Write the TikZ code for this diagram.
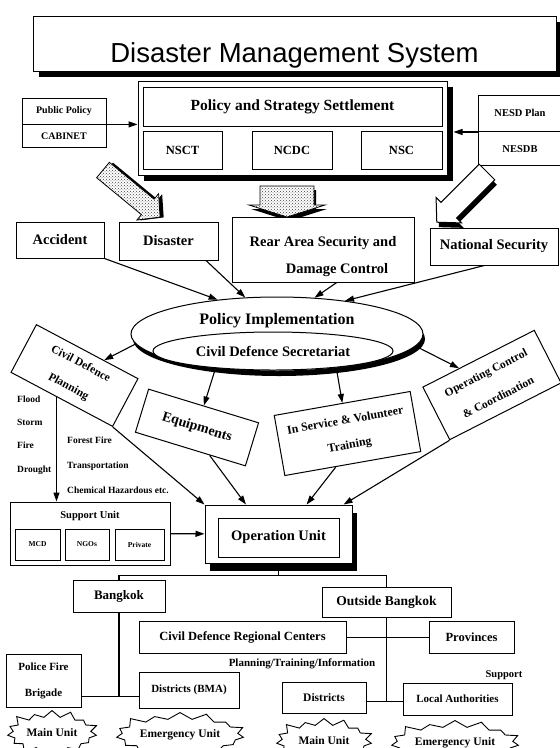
\documentclass[tikz,border=0pt]{standalone}
\usepackage{fontspec}
\setmainfont{Liberation Serif}
\newfontfamily\titlefont{Liberation Sans}
\usetikzlibrary{arrows.meta, positioning, calc, shapes.geometric, shapes.multipart, shapes.symbols, shadows, patterns}

\begin{document}
\begin{tikzpicture}[x=1pt, y=-1pt, >={Triangle[length=9pt,width=6pt]},
  box/.style={draw, line width=1pt, fill=white, inner sep=2pt},
  fs/.style={font=\bfseries\fontsize{#1}{#1}\selectfont},
  conn/.style={->, line width=1.1pt},
  tree/.style={line width=1.1pt},
  stipple/.style={draw, line width=0.8pt, preaction={fill=white}, pattern=crosshatch dots, pattern color=black!75},
  burst/.style={starburst, draw, line width=0.9pt, fill=white, starburst points=15, starburst point height=9pt, inner sep=1pt}]
\useasboundingbox (0,0) rectangle (560,748);

\node[box, minimum width=523pt, minimum height=55pt, text height=38pt, text depth=0pt,
  font=\titlefont\fontsize{27.5}{27.5}\selectfont,
  drop shadow={shadow xshift=6pt, shadow yshift=-6pt, opacity=1, fill=black}] (title) at (294.5,43.5) {Disaster Management System};

% policy and strategy block
\node[box, minimum width=309pt, minimum height=94pt,
  drop shadow={shadow xshift=6pt, shadow yshift=-6pt, opacity=1, fill=black}] (policy) at (292.5,128) {};
\node[box, fs=15.5, minimum width=299pt, minimum height=39pt] (pss) at (292.5,106.5) {Policy and Strategy Settlement};
\node[box, fs=12.5, minimum width=79pt, minimum height=38pt] (nsct) at (182.5,150) {NSCT};
\node[box, fs=12.5, minimum width=80pt, minimum height=38pt] (ncdc) at (292,150) {NCDC};
\node[box, fs=12.5, minimum width=81pt, minimum height=38pt] (nsc) at (401.5,150) {NSC};

\node[box, rectangle split, rectangle split parts=2, fs=10, minimum width=84pt,
  text height=7pt, text depth=2.5pt, inner ysep=7.75pt] (pubpol) at (64,123) {Public Policy \nodepart{two} CABINET};
\node[box, rectangle split, rectangle split parts=2, fs=10.5, minimum width=84pt,
  text height=7.5pt, text depth=2.5pt, inner ysep=12.75pt] (nesd) at (520,130.5) {NESD Plan \nodepart{two} NESDB};

\draw[conn] (pubpol.text split east) -- (pubpol.text split east -| policy.west);
\draw[conn, shorten >=6pt] (nesd.text split west) -- (nesd.text split west -| policy.east);

% block arrows
\begin{scope}[shift={(103,170)}, rotate=50.5]
  \fill[black] (-8,3) -- (12,3) -- (12,61) -- (19,61) -- (2,77) -- (-15,61) -- (-8,61) -- cycle;
  \path[stipple] (-10,0) -- (10,0) -- (10,58) -- (17,58) -- (0,74) -- (-17,58) -- (-10,58) -- cycle;
\end{scope}
\begin{scope}[shift={(287,186)}]
  \fill[black] (-25,4) -- (29,4) -- (29,23) -- (40,23) -- (2,35) -- (-36,23) -- (-25,23) -- cycle;
  \path[stipple] (-27,0) -- (27,0) -- (27,19) -- (38,19) -- (0,31) -- (-38,19) -- (-27,19) -- cycle;
\end{scope}
\begin{scope}[shift={(487,172)}, rotate=-45]
  \fill[black] (-6,2) -- (16,2) -- (16,56) -- (23,56) -- (5,73) -- (-13,56) -- (-6,56) -- cycle;
  \filldraw[fill=white, line width=1pt] (-11,0) -- (11,0) -- (11,54) -- (18,54) -- (0,71) -- (-18,54) -- (-11,54) -- cycle;
\end{scope}

% incidents
\node[box, fs=14.5, minimum width=88pt, minimum height=36pt] (accident) at (60,240) {Accident};
\node[box, fs=14.5, minimum width=99pt, minimum height=38pt] (disaster) at (168.5,241) {Disaster};
\node[box, fs=14.5, align=center, minimum width=182pt, minimum height=65pt] (rear) at (323,249.5)
  {\rule{0pt}{25pt}Rear Area Security and\\[12.5pt]\hspace*{28pt}Damage Control};
\node[box, fs=14.5, minimum width=128pt, minimum height=37pt] (natsec) at (494,246.5) {National Security};

\node[ellipse, draw, line width=1pt, fill=white, fs=16, minimum width=292pt, minimum height=74pt, text depth=30pt,
  drop shadow={shadow xshift=2pt, shadow yshift=-5pt, opacity=1, fill=black}] (impl) at (277,334) {Policy Implementation};
\node[ellipse, draw, line width=1pt, fill=white, fs=14.5, minimum width=240pt, minimum height=38pt, inner sep=0pt] (secr) at (273,351) {Civil Defence Secretariat};

\draw[conn] (accident.south east) -- (impl.150);
\draw[conn] ($(disaster.south)!0.75!(disaster.south east)$) -- (impl.131);
\draw[conn] ($(rear.south)!0.15!(rear.south east)$) -- (impl.44);
\draw[conn] ($(natsec.south)!0.15!(natsec.south west)$) -- (impl.26);

% tasks
\node[box, fs=11.5, align=center, rotate=-28, minimum width=115pt, minimum height=54pt] (cdp) at (74.5,375.5) {Civil Defence\\[14.5pt]Planning};
\node[box, fs=14, rotate=-17, minimum width=115pt, minimum height=45pt] (equip) at (197,427.5) {Equipments};
\node[box, fs=12, align=center, rotate=10, minimum width=138pt, minimum height=61pt] (insvc) at (347.5,433.5) {In Service \& Volunteer\\[13pt]Training};
\node[box, fs=11.5, align=center, rotate=27, minimum width=125pt, minimum height=59pt] (opctl) at (492,385) {Operating Control\\[16pt]\& Coordination};

\draw[conn] (impl.184) -- (cdp);
\draw[conn] (impl.209) -- (equip);
\draw[conn] (impl.330) -- (insvc);
\draw[conn] (impl.355) -- (opctl);

\node[fs=9.5, align=left, anchor=west, inner sep=1pt] (hazards) at (16,435) {Flood\\[13.8pt]Storm\\[13.8pt]Fire\\[13.8pt]Drought};
\node[fs=9.5, align=left, anchor=west, inner sep=1pt] (hazardsb) at (66,465) {Forest Fire\\[15.5pt]Transportation\\[15.5pt]Chemical Hazardous etc.};

% units
\node[box, minimum width=160pt, minimum height=63pt,
  label={[anchor=north, yshift=-6pt, fs=10.5]north:Support Unit}] (support) at (90,533.5) {};
\node[box, fs=7.5, minimum width=45pt, minimum height=31pt] (mcd) at (37.5,544.5) {MCD};
\node[box, fs=7.5, minimum width=44pt, minimum height=31pt] (ngo) at (87,544.5) {NGOs};
\node[box, fs=7.5, minimum width=49pt, minimum height=31pt] (priv) at (139.5,544.5) {Private};

\node[box, minimum width=147pt, minimum height=58pt,
  drop shadow={shadow xshift=5pt, shadow yshift=-8pt, opacity=1, fill=black}] (oper) at (278.5,534) {};
\node[box, fs=14.5, minimum width=121pt, minimum height=39pt] (operin) at (278.5,537.5) {Operation Unit};

\coordinate (cdpfoot) at ($(cdp.south west)!0.45!(cdp.south east)$);
\draw[conn] (cdpfoot) -- (cdpfoot |- support.north);
\draw[conn] (cdp.south east) -- (oper.north west);
\draw[conn] ($(equip.south)!0.35!(equip.south east)$) -- ($(oper.north west)!0.28!(oper.north east)$);
\draw[conn] ($(insvc.south)!0.25!(insvc.south west)$) -- ($(oper.north west)!0.69!(oper.north east)$);
\draw[conn] (opctl.south west) -- ($(oper.north west)!0.94!(oper.north east)$);
\draw[conn] (support) -- (oper);

% regions
\node[burst, fs=11.5, minimum width=96pt, minimum height=50pt] (mainb) at (52,733) {Main Unit};
\node[burst, fs=11.5, minimum width=124pt, minimum height=50pt] (emerb) at (180,735) {Emergency Unit};
\node[burst, fs=11.5, minimum width=102pt, minimum height=50pt] (mainc) at (324,741) {Main Unit};
\node[burst, fs=11.5, minimum width=130pt, minimum height=50pt] (emerc) at (455,743) {Emergency Unit};

\node[box, fs=13, minimum width=92pt, minimum height=32pt] (bkk) at (119,596) {Bangkok};
\node[box, fs=13.5, minimum width=129pt, minimum height=30pt] (obkk) at (386.5,602) {Outside Bangkok};
\node[box, fs=12.5, minimum width=207pt, minimum height=32pt] (rdc) at (242.5,637.5) {Civil Defence Regional Centers};
\node[box, fs=12.5, minimum width=85pt, minimum height=32pt] (prov) at (471.5,637.5) {Provinces};
\node[box, fs=11, align=center, minimum width=75pt, minimum height=53pt] (police) at (43.5,680.5) {Police Fire\\[15pt]Brigade};
\node[box, fs=11, minimum width=100pt, minimum height=36pt] (bma) at (189,690) {Districts (BMA)};
\node[box, fs=11.5, minimum width=84pt, minimum height=31pt] (dist) at (324,697.5) {Districts};
\node[box, fs=11, minimum width=109pt, minimum height=32pt] (locauth) at (457.5,699) {Local Authorities};

\node[fs=11] (ptinfo) at (302,664) {Planning/Training/Information};
\node[fs=10.5] (suptxt) at (504,675) {Support};

\draw[tree] (oper.south) -- ++(0,12) coordinate (fork) -| (bkk.north);
\draw[tree] (fork) -| (obkk.north);
\draw[tree] (rdc) -- (prov);
\draw[tree] (bkk.south) -- ++(0,84) coordinate (bkkjoin);
\draw[tree] (police.east |- bkkjoin) -- (bma.west |- bkkjoin);
\draw[tree] (obkk.south) -- ++(0,84) coordinate (obkkjoin);
\draw[tree] (dist.east |- obkkjoin) -- (locauth.west |- obkkjoin);
\end{tikzpicture}
\end{document}
